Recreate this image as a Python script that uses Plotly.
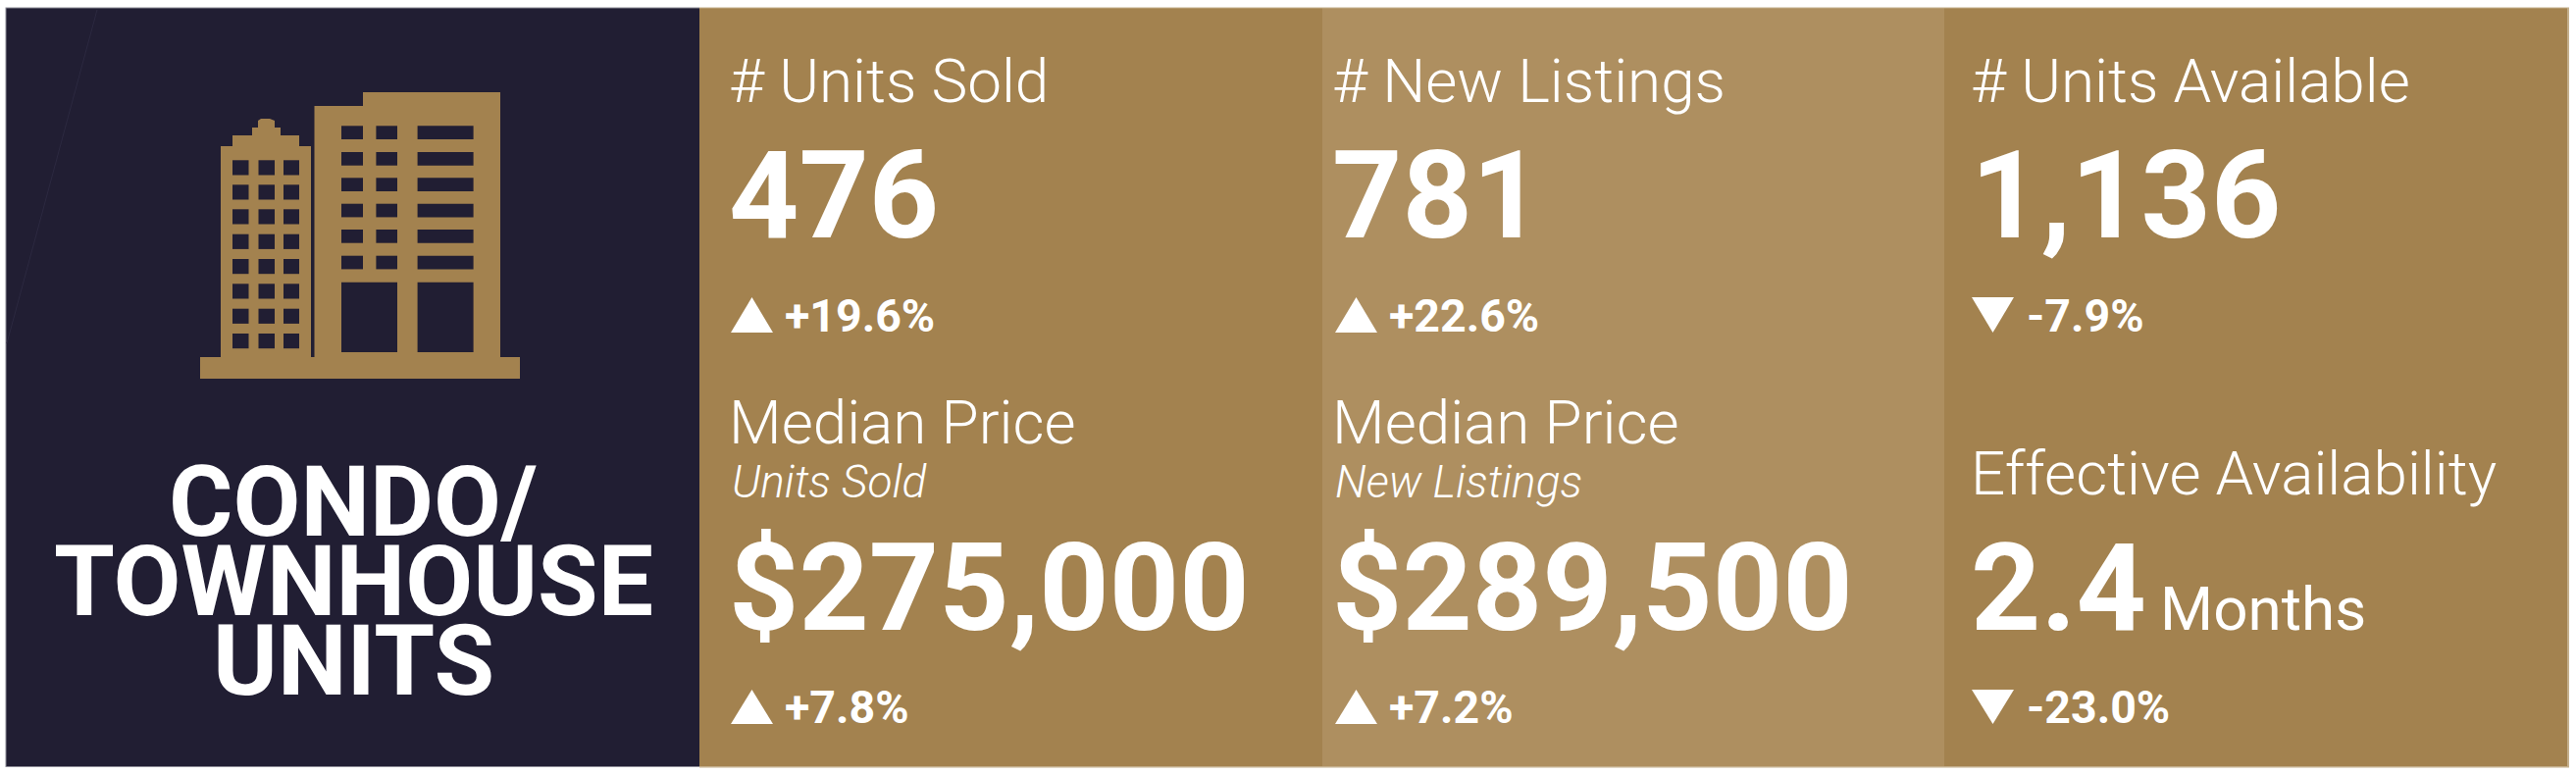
import plotly.graph_objects as go

W, H = 2626, 790
NAVY = "#211E33"
GOLD = "#A3824F"
GOLD_LIGHT = "#AE8F60"
EDGE_NAVY = "#8C8B96"
EDGE_GOLD = "#C4AF8C"
WHITE = "#FFFFFF"
FONT = "Roboto"

# ---- data -------------------------------------------------------------
title_lines = ["CONDO/", "TOWNHOUSE", "UNITS"]
top_labels = ["# Units Sold", "# New Listings", "# Units Available"]
top_values = ["476", "781", "1,136"]
top_changes = ["+19.6%", "+22.6%", "-7.9%"]
top_dirs = ["up", "up", "down"]
bottom_labels = ["Median Price", "Median Price", "Effective Availability"]
bottom_sublabels = ["Units Sold", "New Listings", ""]
bottom_values = ["$275,000", "$289,500", "2.4"]
bottom_units = ["", "", "Months"]
bottom_changes = ["+7.8%", "+7.2%", "-23.0%"]
bottom_dirs = ["up", "up", "down"]

# ---- layout geometry (pixels of the tile) -----------------------------
TOP, BOTTOM = 8.5, 781
panel_edges = [6.5, 713, 1348, 1982, 2617]
panel_colors = [NAVY, GOLD, GOLD_LIGHT, GOLD]
text_x = [743, 1358, 2009]
tri_x = [745, 1361, 2010]
change_x = [800, 1416, 2066]
TRI_W = 43

shapes = []
annotations = []


def rect(x0, y0, x1, y1, color):
    shapes.append(dict(type="rect", xref="x", yref="y", x0=x0, y0=y0, x1=x1, y1=y1,
                       fillcolor=color, line=dict(width=0), layer="below"))


def poly(points, color):
    d = "M " + " L ".join(f"{x},{y}" for x, y in points) + " Z"
    shapes.append(dict(type="path", xref="x", yref="y", path=d, fillcolor=color,
                       line=dict(width=0), layer="below"))


def text(x, baseline, s, size, weight=400, style="normal", anchor="left"):
    annotations.append(dict(
        x=x, y=baseline + 0.244 * size, xref="x", yref="y", text=s, showarrow=False,
        xanchor=anchor, yanchor="bottom", borderpad=0, borderwidth=0,
        font=dict(family=FONT, size=size, color=WHITE, weight=weight, style=style),
    ))


def triangle(x, y0, y1, w, direction):
    if direction == "up":
        poly([(x, y1), (x + w, y1), (x + w / 2, y0)], WHITE)
    else:
        poly([(x, y0), (x + w, y0), (x + w / 2, y1)], WHITE)


# soft edge around the tile
rect(panel_edges[0] - 1, TOP - 1, panel_edges[1], BOTTOM + 1, EDGE_NAVY)
rect(panel_edges[1], TOP - 1, panel_edges[4] + 2, BOTTOM + 1.5, EDGE_GOLD)

# panels
for i, c in enumerate(panel_colors):
    rect(panel_edges[i], TOP, panel_edges[i + 1], BOTTOM, c)

# faint scratch line on the navy panel
shapes.append(dict(type="line", xref="x", yref="y", x0=99, y0=10, x1=7, y1=350,
                   line=dict(color="#2C2940", width=1), layer="below"))

# building pictogram
poly([(204, 364), (225, 364), (225, 149), (237, 149), (237, 138), (257, 138), (257, 130),
      (263, 130), (263, 123), (266, 121), (275, 121), (280, 123), (280, 130), (286, 130),
      (286, 138), (305, 138), (305, 149), (317, 149), (317, 364), (320.5, 364), (320.5, 108),
      (370, 108), (370, 94), (510, 94), (510, 364), (530, 364), (530, 386), (204, 386)], GOLD)
for y0 in [163.3, 188.3, 213.3, 238.7, 264, 289.3, 314.7, 340]:
    for x0, x1 in [(237, 253.5), (263.5, 280), (289, 305)]:
        rect(x0, y0, x1, y0 + 15.2, NAVY)
for y0 in [128.3, 155, 181.3, 207.7, 234, 260.7]:
    for x0, x1 in [(348, 370), (383.4, 405), (425.6, 482.6)]:
        rect(x0, y0, x1, y0 + 13.7, NAVY)
for x0, x1 in [(348, 405), (425.6, 482.6)]:
    rect(x0, 287.7, x1, 359, NAVY)

# title
for line, base in zip(title_lines, [546, 627, 708]):
    text(360, base, f"<b>{line}</b>", 100, weight=700, anchor="center")

# KPI columns
for i in range(3):
    x = text_x[i]
    text(x, 104, top_labels[i], 62, weight=300)
    text(x, 242, top_values[i], 124.5, weight=700)
    triangle(tri_x[i], 303, 339, TRI_W, top_dirs[i])
    text(change_x[i], 338, top_changes[i], 46.5, weight=700)

    label_base = 452 if bottom_sublabels[i] else 504
    text(x, label_base, bottom_labels[i], 62, weight=300)
    if bottom_sublabels[i]:
        text(x + 3, 507, bottom_sublabels[i], 46, weight=300, style="italic")
    text(x, 642, bottom_values[i], 124.5, weight=700)
    if bottom_units[i]:
        text(2202, 642, bottom_units[i], 62, weight=400)
    triangle(tri_x[i], 703, 738, TRI_W, bottom_dirs[i])
    text(change_x[i], 737, bottom_changes[i], 46.5, weight=700)

fig = go.Figure()
fig.update_layout(
    width=W, height=H, margin=dict(l=0, r=0, t=0, b=0),
    paper_bgcolor=WHITE, plot_bgcolor=WHITE, showlegend=False,
    xaxis=dict(range=[0, W], visible=False, fixedrange=True),
    yaxis=dict(range=[H, 0], visible=False, fixedrange=True),
    shapes=shapes, annotations=annotations,
)
fig.write_html("out.html", config={"displayModeBar": False},
               post_script="document.body.style.margin='0';document.body.style.overflow='hidden';")
